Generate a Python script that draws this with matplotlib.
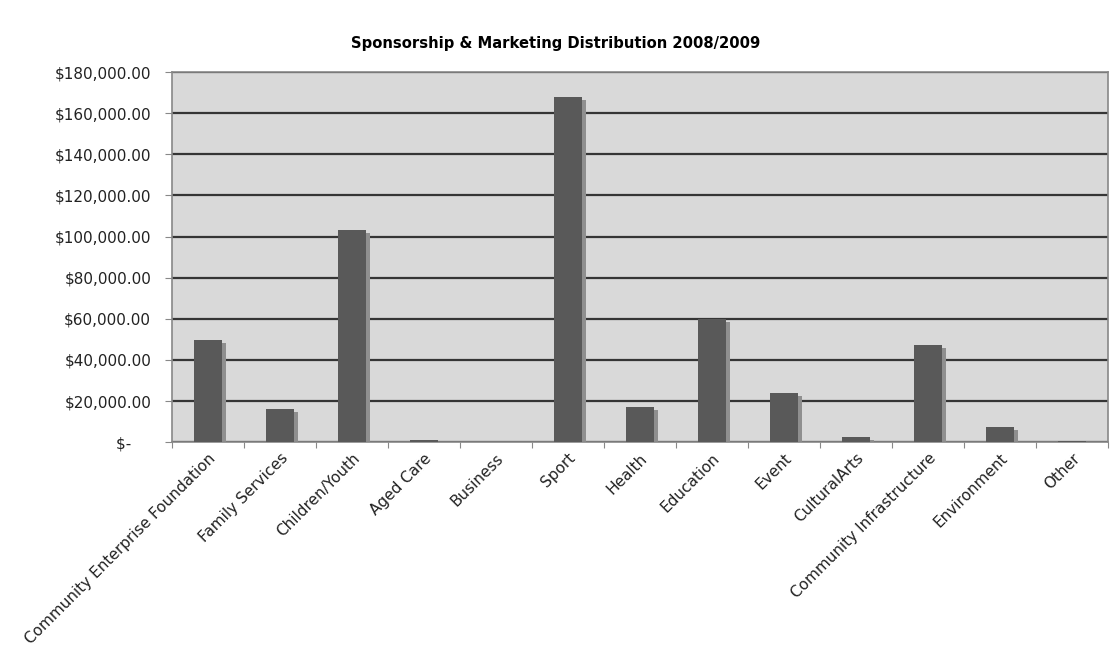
import matplotlib.pyplot as plt
import numpy as np
from matplotlib import ticker

categories = ["Community Enterprise Foundation", "Family Services", "Children/Youth",
              "Aged Care", "Business", "Sport", "Health", "Education", "Event",
              "CulturalArts", "Community Infrastructure", "Environment", "Other"]
amounts = [49800, 16000, 103000, 1000, 0, 168000, 17000, 59800, 23800,
           2500, 47200, 7400, 500]
y_ticks = [0, 20000, 40000, 60000, 80000, 100000, 120000, 140000, 160000, 180000]


def money(v, pos):
    if v == 0:
        return "$-    "
    return "${:,.2f}".format(v)


fig = plt.figure(figsize=(11.12, 6.61), dpi=100)
ax = fig.add_axes([0.1547, 0.331, 0.8417, 0.56])

x = np.arange(len(categories))
# drop shadow behind each bar
ax.bar(x + 0.045, np.maximum(np.array(amounts) - 1400, 0), width=0.4,
       color="#8f8f8f", zorder=2)
ax.bar(x, amounts, width=0.4, color="#595959", zorder=3)

ax.set_facecolor("#d9d9d9")
ax.set_xlim(-0.5, len(categories) - 0.5)
ax.set_ylim(0, 180000)
ax.set_yticks(y_ticks)
ax.yaxis.set_major_formatter(ticker.FuncFormatter(money))
ax.yaxis.grid(True, color="#353535", linewidth=1.6, zorder=1)
ax.set_axisbelow(True)

ax.set_xticks(np.arange(len(categories) + 1) - 0.5, minor=False)
ax.set_xticklabels([])
ax.set_xticks(x, minor=True)
ax.set_xticklabels(categories, minor=True, rotation=45, ha="right",
                   rotation_mode="anchor", fontsize=11, color="#222222")
ax.tick_params(axis="x", which="minor", length=0, pad=6)
ax.tick_params(axis="x", which="major", length=4, color="#888888")
ax.tick_params(axis="y", length=5, color="#888888", labelsize=11,
               labelcolor="#222222", pad=10)

for s in ax.spines.values():
    s.set_color("#888888")
    s.set_linewidth(1.2)

fig.suptitle("Sponsorship & Marketing Distribution 2008/2009", fontsize=10.6,
             fontweight="bold", y=0.945, x=0.5)

plt.savefig("out.png", dpi=100)
plt.close()
